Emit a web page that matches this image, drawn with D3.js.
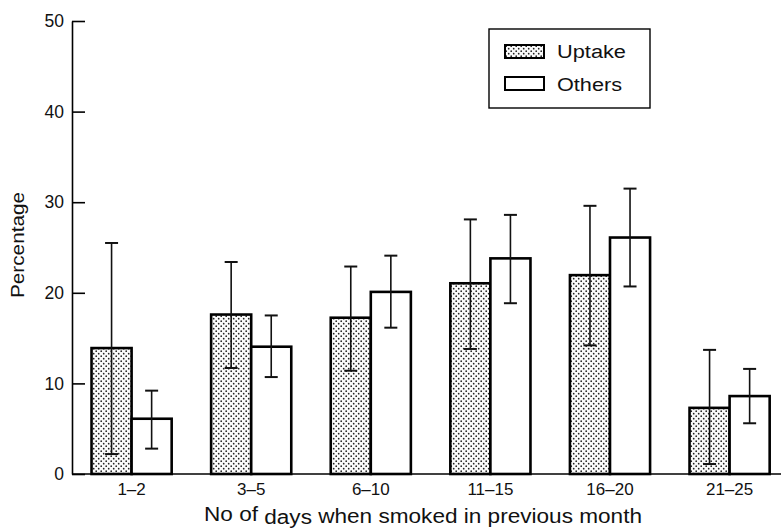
<!DOCTYPE html>
<html>
<head>
<meta charset="utf-8">
<script src="https://cdn.jsdelivr.net/npm/d3@7"></script>
<style>
  body { margin: 0; background: #fff; }
  svg { display: block; font-family: "Liberation Sans", Arial, Helvetica, sans-serif; }
</style>
</head>
<body>
<svg id="chart" width="783" height="529"></svg>
<script>
// data
const categories = ["1\u20132", "3\u20135", "6\u201310", "11\u201315", "16\u201320", "21\u201325"];
const seriesNames = ["Uptake", "Others"];
const uptake = [13.9, 17.6, 17.25, 21.05, 21.95, 7.3];
const uptakeLow = [2.2, 11.7, 11.4, 13.8, 14.2, 1.1];
const uptakeHigh = [25.5, 23.4, 22.9, 28.1, 29.6, 13.7];
const others = [6.1, 14.05, 20.1, 23.8, 26.1, 8.6];
const othersLow = [2.8, 10.7, 16.15, 18.85, 20.7, 5.6];
const othersHigh = [9.2, 17.5, 24.1, 28.6, 31.5, 11.6];
const yTicks = [0, 10, 20, 30, 40, 50];

let data = [];
categories.forEach((c, i) => {
  data.push({cat: c, series: "Uptake", value: uptake[i], low: uptakeLow[i], high: uptakeHigh[i]});
  data.push({cat: c, series: "Others", value: others[i], low: othersLow[i], high: othersHigh[i]});
});

const svg = d3.select("#chart");
const axisX = 72, baseY = 474, axisEnd = 781;

const defs = svg.append("defs");
const pat = defs.append("pattern")
  .attr("id", "dots")
  .attr("patternUnits", "userSpaceOnUse")
  .attr("width", 5).attr("height", 5);
pat.append("rect").attr("width", 5).attr("height", 5).attr("fill", "#fbfbfb");
pat.append("circle").attr("cx", 1.2).attr("cy", 1.2).attr("r", 0.85).attr("fill", "#222");
pat.append("circle").attr("cx", 3.7).attr("cy", 3.7).attr("r", 0.85).attr("fill", "#222");

let x = d3.scaleBand()
  .domain(categories)
  .range([71.8, 789.4])
  .paddingInner(0.33)
  .paddingOuter(0.165);

let xs = d3.scaleBand()
  .domain(seriesNames)
  .range([0, x.bandwidth()]);

let y = d3.scaleLinear()
  .domain([0, 50])
  .range([baseY, 21]);

let fill = d => d.series === "Uptake" ? "url(#dots)" : "#fff";

// bars
svg.append("g")
  .selectAll("rect")
  .data(data)
  .join("rect")
  .attr("x", d => x(d.cat) + xs(d.series))
  .attr("y", d => y(d.value))
  .attr("width", xs.bandwidth())
  .attr("height", d => y(0) - y(d.value))
  .attr("fill", fill)
  .attr("stroke", "#000")
  .attr("stroke-width", 2.6);

// error bars
let cx = d => x(d.cat) + xs(d.series) + xs.bandwidth() / 2;
let eb = svg.append("g").attr("stroke", "#111").attr("stroke-width", 1.6);
eb.selectAll("line.v")
  .data(data)
  .join("line")
  .attr("class", "v")
  .attr("x1", cx).attr("x2", cx)
  .attr("y1", d => y(d.low)).attr("y2", d => y(d.high));
eb.selectAll("line.hi")
  .data(data)
  .join("line")
  .attr("class", "hi")
  .attr("x1", d => cx(d) - 6.5).attr("x2", d => cx(d) + 6.5)
  .attr("y1", d => y(d.high)).attr("y2", d => y(d.high))
  .attr("stroke-width", 2);
eb.selectAll("line.lo")
  .data(data)
  .join("line")
  .attr("class", "lo")
  .attr("x1", d => cx(d) - 6.5).attr("x2", d => cx(d) + 6.5)
  .attr("y1", d => y(d.low)).attr("y2", d => y(d.low))
  .attr("stroke-width", 2);

// y axis
let yAxis = g => g
  .attr("transform", `translate(${axisX},0)`)
  .call(d3.axisLeft(y).tickValues(yTicks).tickSize(-13).tickPadding(8).tickSizeOuter(0))
  .call(g => g.select(".domain").attr("stroke-width", 1.6))
  .call(g => g.selectAll(".tick line").attr("stroke-width", 1.6))
  .call(g => g.selectAll(".tick text")
    .attr("font-size", 17.5)
    .attr("font-family", "Liberation Sans, Arial, sans-serif")
    .attr("fill", "#111"));
svg.append("g").call(yAxis);

// x baseline + labels
svg.append("line")
  .attr("x1", axisX).attr("x2", axisEnd)
  .attr("y1", baseY).attr("y2", baseY)
  .attr("stroke", "#000").attr("stroke-width", 1.6);

svg.append("g")
  .selectAll("text")
  .data(categories)
  .join("text")
  .attr("x", d => x(d) + x.bandwidth() / 2)
  .attr("y", 495)
  .attr("text-anchor", "middle")
  .attr("font-size", 17)
  .attr("fill", "#111")
  .text(d => d);

// axis titles
let xt = svg.append("text")
  .attr("x", 423)
  .attr("y", 521)
  .attr("text-anchor", "middle")
  .attr("font-size", 20)
  .attr("textLength", 438)
  .attr("lengthAdjust", "spacingAndGlyphs")
  .attr("fill", "#111");
xt.append("tspan").text("No of ");
xt.append("tspan").attr("dy", 3).text("days");
xt.append("tspan").attr("dy", -1).text(" when smoked in previous month");

svg.append("text")
  .attr("transform", "translate(24,245) rotate(-90)")
  .attr("text-anchor", "middle")
  .attr("font-size", 18)
  .attr("textLength", 106)
  .attr("lengthAdjust", "spacingAndGlyphs")
  .attr("fill", "#111")
  .text("Percentage");

// legend
let legend = svg.append("g");
legend.append("rect")
  .attr("x", 489).attr("y", 29)
  .attr("width", 161).attr("height", 79)
  .attr("fill", "#fff")
  .attr("stroke", "#000").attr("stroke-width", 1.4);
legend.selectAll("rect.sw")
  .data(seriesNames)
  .join("rect")
  .attr("class", "sw")
  .attr("x", 505)
  .attr("y", (d, i) => 45 + i * 32)
  .attr("width", 39).attr("height", 13)
  .attr("fill", d => d === "Uptake" ? "url(#dots)" : "#fff")
  .attr("stroke", "#000").attr("stroke-width", 2);
legend.selectAll("text")
  .data(seriesNames)
  .join("text")
  .attr("x", 557)
  .attr("y", (d, i) => 58 + i * 33)
  .attr("font-size", 18)
  .attr("textLength", (d, i) => i === 0 ? 69 : 65)
  .attr("lengthAdjust", "spacingAndGlyphs")
  .attr("fill", "#111")
  .text(d => d);
</script>
</body>
</html>
